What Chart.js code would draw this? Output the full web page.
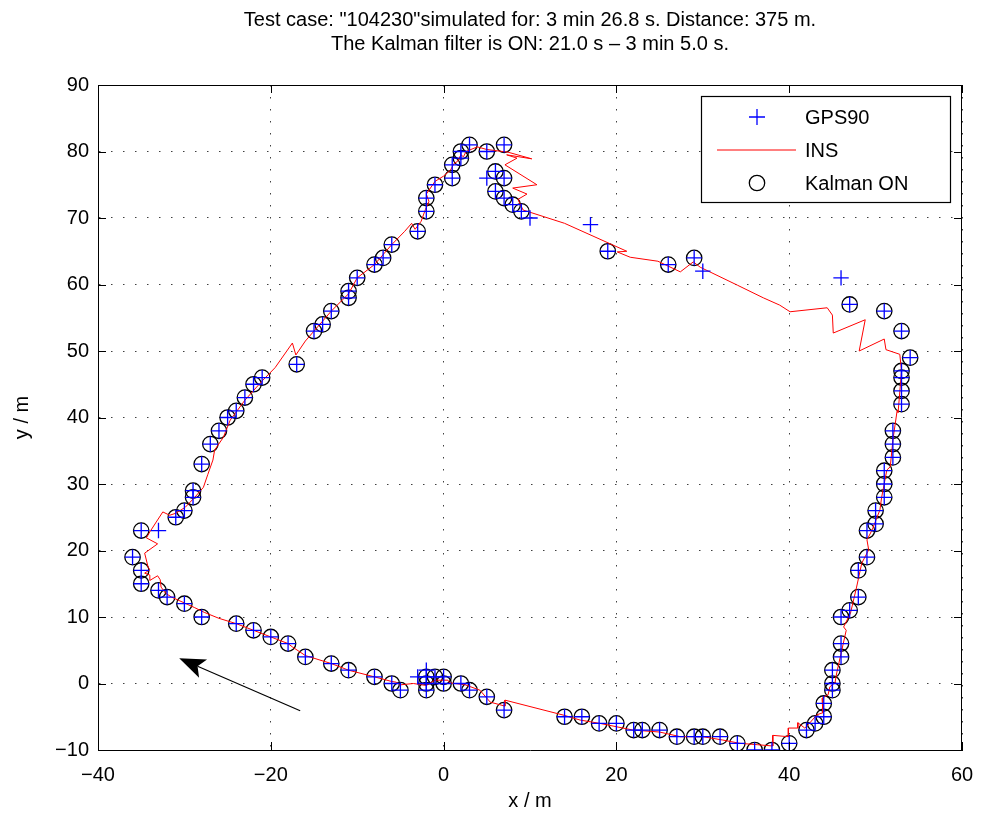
<!DOCTYPE html>
<html>
<head>
<meta charset="utf-8">
<script src="https://cdn.jsdelivr.net/npm/chart.js@4/dist/chart.umd.min.js"></script>
<style>
  body { margin: 0; background: #fff; }
  #wrap { width: 982px; height: 821px; }
</style>
</head>
<body>
<div id="wrap"><canvas id="chartdiv" width="982" height="821"></canvas></div>
<script>
// GPS90 fixes (m), in driving order
var gpsX = [0, 0, -1, -2, -2, -2, -3, -2, -5, -6, -8, -11, -13, -16, -18, -20, -22, -24, -28, -30, -32, -33, -35, -35, -36, -35, -33, -31, -30, -29, -29, -28, -27, -26, -25, -24, -23, -22, -21, -17, -15, -14, -13, -11, -11, -10, -8, -7, -6, -3, -2, -2, -1, 1, 1, 2, 2, 3, 5, 7, 6, 5, 7, 6, 7, 8, 9, 10, 17, 19, 26, 29, 30, 46, 47, 51, 53, 54, 53, 53, 53, 53, 52, 52, 52, 51, 51, 51, 50, 50, 49, 49, 48, 48, 47, 46, 46, 46, 45, 45, 45, 44, 44, 43, 42, 40, 38, 36, 34, 32, 30, 29, 27, 25, 23, 22, 20, 18, 16, 14, 7, 5, 3, 2];
var gpsY = [0, 1, 1, 1, 0, -1, 1, 2, -1, 0, 1, 2, 3, 4, 6, 7, 8, 9, 10, 12, 13, 14, 15, 17, 19, 23, 23, 25, 26, 28, 29, 33, 36, 38, 40, 41, 43, 45, 46, 48, 53, 54, 56, 58, 59, 61, 63, 64, 66, 68, 71, 73, 75, 76, 78, 79, 80, 81, 80, 81, 77, 76, 76, 74, 73, 72, 71, 70, 69, 65, 63, 64, 62, 61, 57, 56, 53, 49, 47, 46, 44, 42, 38, 36, 34, 32, 30, 28, 26, 24, 23, 19, 17, 13, 11, 10, 6, 4, 2, 0, -1, -3, -5, -6, -7, -9, -10, -10, -9, -8, -8, -8, -8, -7, -7, -7, -6, -6, -5, -5, -4, -2, -1, 0];

// Kalman ON estimates (m)
var kalX = [0, 0, -1, -2, -2, -2, -5, -6, -8, -11, -13, -16, -18, -20, -22, -24, -28, -30, -32, -33, -35, -35, -36, -35, -31, -30, -29, -29, -28, -27, -26, -25, -24, -23, -22, -21, -17, -15, -14, -13, -11, -11, -10, -8, -7, -6, -3, -2, -2, -1, 1, 1, 2, 2, 3, 5, 7, 6, 7, 6, 7, 8, 9, 19, 26, 29, 47, 51, 53, 54, 53, 53, 53, 53, 52, 52, 52, 51, 51, 51, 50, 50, 49, 49, 48, 48, 47, 46, 46, 46, 45, 45, 45, 44, 44, 43, 42, 40, 38, 36, 34, 32, 30, 29, 27, 25, 23, 22, 20, 18, 16, 14, 7, 5, 3, 2];
var kalY = [0, 1, 1, 1, 0, -1, -1, 0, 1, 2, 3, 4, 6, 7, 8, 9, 10, 12, 13, 14, 15, 17, 19, 23, 25, 26, 28, 29, 33, 36, 38, 40, 41, 43, 45, 46, 48, 53, 54, 56, 58, 59, 61, 63, 64, 66, 68, 71, 73, 75, 76, 78, 79, 80, 81, 80, 81, 77, 76, 74, 73, 72, 71, 65, 63, 64, 57, 56, 53, 49, 47, 46, 44, 42, 38, 36, 34, 32, 30, 28, 26, 24, 23, 19, 17, 13, 11, 10, 6, 4, 2, 0, -1, -3, -5, -6, -7, -9, -10, -10, -9, -8, -8, -8, -8, -7, -7, -7, -6, -6, -5, -5, -4, -2, -1, 0];

// INS dead-reckoning track (m)
var insX = [0.5, -1, -2, -3.5, -5, -5.5, -6, -8, -11, -13, -15, -16, -17.5, -18, -20, -22, -24, -26, -27.7, -28.8, -31.5, -32.2, -32.7, -32.8, -33.1, -34, -34, -34.6, -34, -34.2, -34.6, -33.1, -34.4, -34, -32.5, -31.7, -31, -29.9, -28.8, -27.8, -27.3, -26.7, -26.5, -25.5, -24.7, -23, -21, -19.5, -17.5, -17.1, -16, -15, -13, -11, -10, -8, -6, -4.5, -3.7, -3.3, -2.6, -2.1, -1.7, -2, -1, 0, 0.8, 1.2, 1.6, 2, 2.3, 2.6, 3.9, 5, 7.45, 10.2, 7.3, 8.5, 7.1, 10.8, 8, 9.65, 8.6, 9.2, 14, 21.2, 20.1, 21.6, 24.8, 27.4, 28.9, 29.7, 34, 37, 38.9, 40.1, 44.4, 45, 45.1, 48.8, 48.1, 51, 51.2, 52.8, 53, 52.6, 52.5, 52, 51.7, 51.3, 50.7, 50.5, 49.6, 49, 49.2, 48.4, 47.8, 47.1, 46.3, 46.6, 45.5, 45.3, 44.7, 44.5, 43.8, 43.9, 43.2, 42.2, 41.8, 41, 41, 39.9, 39.9, 38.1, 38.1, 36.3, 34.3, 32.3, 30, 27.4, 25, 21.9, 18.1, 15.8, 14, 7.1, 7.1, 5.4, 4.2, 2.5, 0.7, 0.5];
var insY = [0.5, 0.5, -0.3, 0, -0.2, 0.2, 0.3, 1, 2, 3, 3.8, 4.2, 5.5, 6, 7, 8, 9, 9.8, 10.7, 11.4, 13, 13.6, 14.5, 15.6, 16.2, 15.5, 16.3, 16.6, 17.1, 17.5, 19.6, 21, 21.9, 22.8, 25.8, 25.3, 25.6, 26.5, 28, 29.5, 31.4, 33.6, 35.1, 37, 39.6, 42.6, 45.5, 47.5, 51.2, 49.4, 51.5, 53, 56, 58.6, 61, 63, 66, 68, 69.2, 68.3, 69.5, 71.3, 72.5, 73.6, 75.5, 76.3, 77.2, 78.2, 78.5, 79.5, 79.2, 80, 80.7, 80.3, 79.9, 78.9, 79.5, 79, 78, 75, 74.5, 73.6, 72.8, 71.2, 69.2, 65, 64.9, 64.1, 63.5, 61.9, 63.4, 62.6, 59.9, 58, 56.9, 55.9, 56.5, 55.4, 52.7, 54.7, 50, 51.8, 50.2, 49.5, 47, 40.7, 41.1, 36.6, 32.6, 32.1, 28, 26.1, 23.1, 21.6, 20.1, 18.1, 14.5, 10.6, 8.5, 8, 1.6, 0.1, -0.5, -1.7, -2.2, -4.4, -4.7, -6.2, -6.7, -5.9, -6.7, -6.7, -8, -7.8, -9.4, -9.2, -9, -8.5, -8, -8, -7.3, -7, -6, -5.5, -4.8, -2.5, -3.4, -2.8, -1, -0.2, 0.1, 0.5];

// axis ticks
var xTicks = [-40, -20, 0, 20, 40, 60];
var yTicks = [-10, 0, 10, 20, 30, 40, 50, 60, 70, 80, 90];

var titleLines = ['Test case: "104230"simulated for: 3 min 26.8 s. Distance: 375 m.',
                  'The Kalman filter is ON: 21.0 s \u2013 3 min 5.0 s.'];
var legendLabels = ['GPS90', 'INS', 'Kalman ON'];

// direction-of-travel arrow, data coords
var arrowFrom = [-16.6, -4.1];
var arrowTo = [-30.6, 3.8];

function toPts(xs, ys) {
    var out = [];
    for (var i = 0; i < xs.length; i++) out.push({x: xs[i], y: ys[i]});
    return out;
}

var FONT = '"Liberation Sans", Arial, Helvetica, sans-serif';
var BLUE = 'rgb(0,0,255)';
var RED = 'rgb(255,0,0)';

// box, inward ticks, arrow and legend
var extras = {
    id: 'extras',
    afterDraw: function(chart) {
        var ctx = chart.ctx;
        var a = chart.chartArea;
        var xs = chart.scales.x, ys = chart.scales.y;
        ctx.save();
        ctx.strokeStyle = '#000';
        ctx.lineWidth = 1;
        // top + right border
        ctx.beginPath();
        ctx.moveTo(a.left, a.top + 0.5); ctx.lineTo(a.right, a.top + 0.5);
        ctx.moveTo(a.right - 0.5, a.top); ctx.lineTo(a.right - 0.5, a.bottom);
        ctx.stroke();
        // inward tick marks
        var tl = 8;
        ctx.beginPath();
        xTicks.forEach(function(v) {
            var px = Math.round(xs.getPixelForValue(v)) + 0.5;
            ctx.moveTo(px, a.bottom); ctx.lineTo(px, a.bottom - tl);
            ctx.moveTo(px, a.top); ctx.lineTo(px, a.top + tl);
        });
        yTicks.forEach(function(v) {
            var py = Math.round(ys.getPixelForValue(v)) + 0.5;
            ctx.moveTo(a.left, py); ctx.lineTo(a.left + tl, py);
            ctx.moveTo(a.right, py); ctx.lineTo(a.right - tl, py);
        });
        ctx.stroke();

        // arrow
        var x0 = xs.getPixelForValue(arrowFrom[0]), y0 = ys.getPixelForValue(arrowFrom[1]);
        var x1 = xs.getPixelForValue(arrowTo[0]), y1 = ys.getPixelForValue(arrowTo[1]);
        var dx = x1 - x0, dy = y1 - y0, len = Math.sqrt(dx * dx + dy * dy);
        var ux = dx / len, uy = dy / len, nx = -uy, ny = ux;
        var L = 26, W = 10, B = 20;
        ctx.lineWidth = 1.2;
        ctx.beginPath();
        ctx.moveTo(x0, y0); ctx.lineTo(x1 - ux * B, y1 - uy * B);
        ctx.stroke();
        ctx.fillStyle = '#000';
        ctx.beginPath();
        ctx.moveTo(x1, y1);
        ctx.lineTo(x1 - ux * L + nx * W, y1 - uy * L + ny * W);
        ctx.lineTo(x1 - ux * B, y1 - uy * B);
        ctx.lineTo(x1 - ux * L - nx * W, y1 - uy * L - ny * W);
        ctx.closePath();
        ctx.fill();

        // legend
        var bx = a.right - 261, by = a.top + 11, bw = 249, bh = 106;
        ctx.fillStyle = '#fff';
        ctx.fillRect(bx, by, bw, bh);
        ctx.lineWidth = 1.2;
        ctx.strokeStyle = '#000';
        ctx.strokeRect(bx + 0.5, by + 0.5, bw, bh);
        var mx = bx + 56, rows = [by + 21, by + 54, by + 87];
        ctx.strokeStyle = BLUE; ctx.lineWidth = 1.3;
        ctx.beginPath();
        ctx.moveTo(mx - 8, rows[0]); ctx.lineTo(mx + 8, rows[0]);
        ctx.moveTo(mx, rows[0] - 8); ctx.lineTo(mx, rows[0] + 8);
        ctx.stroke();
        ctx.strokeStyle = RED; ctx.lineWidth = 1;
        ctx.beginPath();
        ctx.moveTo(bx + 16, rows[1]); ctx.lineTo(bx + 95, rows[1]);
        ctx.stroke();
        ctx.strokeStyle = '#000'; ctx.lineWidth = 1.3;
        ctx.beginPath();
        ctx.arc(mx, rows[2], 7.7, 0, Math.PI * 2);
        ctx.stroke();
        ctx.fillStyle = '#000';
        ctx.font = '20px ' + FONT;
        ctx.textBaseline = 'middle';
        ctx.textAlign = 'left';
        legendLabels.forEach(function(t, i) {
            ctx.fillText(t, bx + 104, rows[i] + 1);
        });
        ctx.restore();
    }
};

var gridOpts = { color: 'rgba(0,0,0,0.75)', lineWidth: 1, drawTicks: false };
var borderOpts = { display: true, color: '#000', width: 1, dash: [1.5, 10.5] };

var ctx1 = document.getElementById('chartdiv').getContext('2d');
var chart = new Chart(ctx1, {
    type: 'scatter',
    data: {
        datasets: [
            {
                label: 'GPS90',
                data: toPts(gpsX, gpsY),
                pointStyle: 'cross',
                pointRadius: 7.7,
                pointBorderColor: BLUE,
                pointBorderWidth: 1.3,
                showLine: false,
                order: 1
            },
            {
                label: 'INS',
                data: toPts(insX, insY),
                showLine: true,
                borderColor: RED,
                borderWidth: 1,
                pointRadius: 0,
                fill: false,
                tension: 0,
                order: 2
            },
            {
                label: 'Kalman ON',
                data: toPts(kalX, kalY),
                pointStyle: 'circle',
                pointRadius: 7.7,
                pointBorderColor: '#000',
                pointBackgroundColor: 'rgba(0,0,0,0)',
                pointBorderWidth: 1.3,
                showLine: false,
                order: 3
            }
        ]
    },
    options: {
        responsive: false,
        animation: false,
        devicePixelRatio: 1,
        layout: { padding: { left: 0, right: 20, top: 0, bottom: 0 } },
        plugins: {
            legend: { display: false },
            tooltip: { enabled: false },
            title: {
                display: true,
                fullSize: false,
                text: titleLines,
                color: '#000',
                font: { family: FONT, size: 20, weight: 'normal', lineHeight: 1.2 },
                padding: { top: 8, bottom: 29 }
            }
        },
        scales: {
            x: {
                type: 'linear',
                min: -40, max: 60,
                afterFit: function(s) { s.height = 71; s.paddingLeft = 0; s.paddingRight = 0; },
                afterBuildTicks: function(s) { s.ticks = xTicks.map(function(v) { return {value: v}; }); },
                ticks: {
                    color: '#000',
                    padding: 13,
                    maxRotation: 0,
                    font: { family: FONT, size: 20 },
                    callback: function(v) { return String(v).replace('-', '\u2212'); }
                },
                grid: gridOpts,
                border: borderOpts,
                title: {
                    display: true, text: 'x / m', color: '#000',
                    font: { family: FONT, size: 20 },
                    padding: { top: 0, bottom: 8 }
                }
            },
            y: {
                type: 'linear',
                min: -10, max: 90,
                afterFit: function(s) { s.width = 98; s.paddingTop = 0; s.paddingBottom = 0; },
                afterBuildTicks: function(s) { s.ticks = yTicks.map(function(v) { return {value: v}; }); },
                ticks: {
                    color: '#000',
                    padding: 9,
                    font: { family: FONT, size: 20 },
                    callback: function(v) { return String(v).replace('-', '\u2212'); }
                },
                grid: gridOpts,
                border: borderOpts,
                title: {
                    display: true, text: 'y / m', color: '#000',
                    font: { family: FONT, size: 20 },
                    padding: { top: 10, bottom: 0 }
                }
            }
        }
    },
    plugins: [extras]
});
</script>
</body>
</html>
